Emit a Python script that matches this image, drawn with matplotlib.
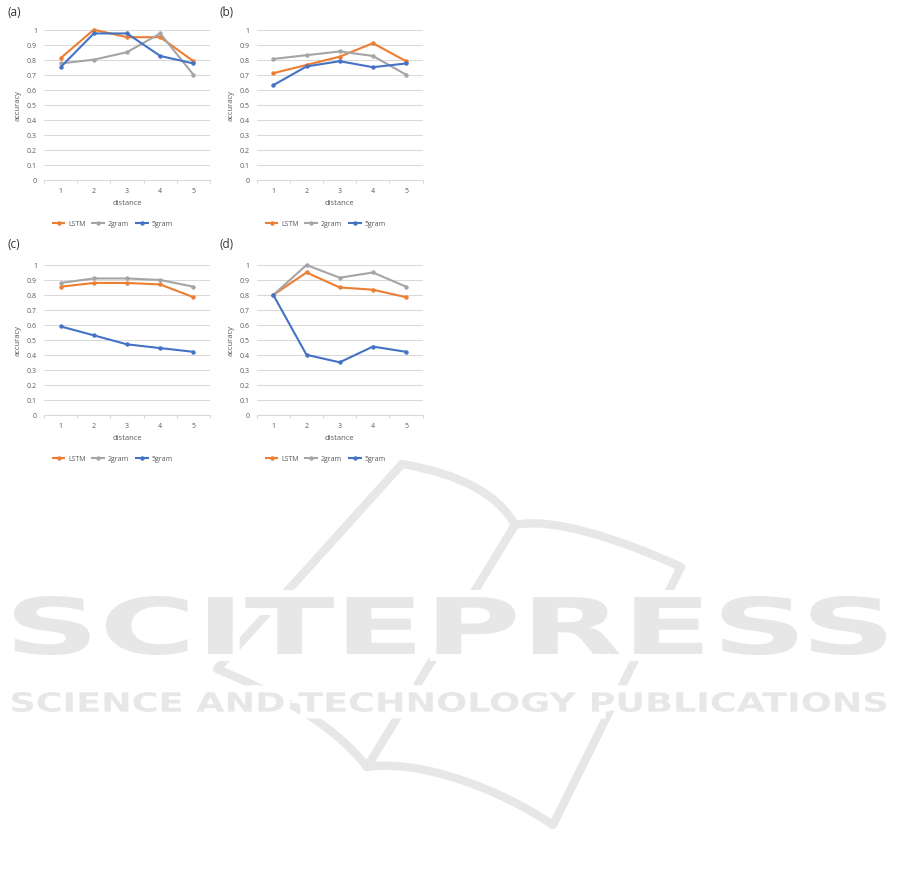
import numpy as np
import matplotlib.pyplot as plt
from matplotlib.path import Path
from matplotlib.patches import PathPatch
from matplotlib.textpath import TextPath
from matplotlib.font_manager import FontProperties
from matplotlib.transforms import Affine2D
import matplotlib.patheffects as pe

plt.rcParams['font.family'] = ['Open Sans', 'DejaVu Sans']

distance = [1, 2, 3, 4, 5]
series_names = ['LSTM', '2gram', '5gram']
panel_labels = ['(a)', '(b)', '(c)', '(d)']

lstm_a = [0.81, 1.00, 0.95, 0.95, 0.79]
bigram_a = [0.775, 0.80, 0.85, 0.975, 0.70]
fivegram_a = [0.75, 0.975, 0.975, 0.825, 0.775]

lstm_b = [0.71, 0.765, 0.82, 0.91, 0.79]
bigram_b = [0.805, 0.83, 0.855, 0.825, 0.70]
fivegram_b = [0.63, 0.755, 0.79, 0.75, 0.775]

lstm_c = [0.855, 0.88, 0.88, 0.87, 0.785]
bigram_c = [0.88, 0.91, 0.91, 0.90, 0.855]
fivegram_c = [0.59, 0.53, 0.47, 0.445, 0.42]

lstm_d = [0.80, 0.95, 0.85, 0.835, 0.785]
bigram_d = [0.80, 1.00, 0.915, 0.95, 0.855]
fivegram_d = [0.80, 0.40, 0.35, 0.455, 0.42]

panels = [(lstm_a, bigram_a, fivegram_a),
          (lstm_b, bigram_b, fivegram_b),
          (lstm_c, bigram_c, fivegram_c),
          (lstm_d, bigram_d, fivegram_d)]

colors = ['#ED7D31', '#A5A5A5', '#4472C4']
grid_c = '#d9d9d9'
text_c = '#595959'
wm_c = '#e6e7e6'

W, H = 901, 887
fig = plt.figure(figsize=(W / 100, H / 100), dpi=100)

# watermark, drawn in pixel coordinates
bg = fig.add_axes([0, 0, 1, 1], zorder=0)
bg.set_xlim(0, W)
bg.set_ylim(H, 0)
bg.axis('off')

book = [
    (Path.MOVETO, (402, 465)),
    (Path.CURVE3, (490, 480)),
    (Path.CURVE3, (515, 526)),
    (Path.CURVE4, (552, 518)),
    (Path.CURVE4, (620, 540)),
    (Path.CURVE4, (681, 568)),
    (Path.LINETO, (553, 826)),
    (Path.CURVE4, (500, 790)),
    (Path.CURVE4, (420, 760)),
    (Path.CURVE4, (367, 768)),
    (Path.CURVE4, (330, 720)),
    (Path.CURVE4, (265, 690)),
    (Path.CURVE4, (217, 670)),
    (Path.CLOSEPOLY, (402, 465)),
    (Path.MOVETO, (515, 526)),
    (Path.LINETO, (367, 768)),
]
codes, verts = zip(*book)
bg.add_patch(PathPatch(Path(verts, codes), fill=False, ec=wm_c, lw=6,
                       joinstyle='round', capstyle='round'))


def wm_text(s, x0, x1, y_top, y_bot):
    tp = TextPath((0, 0), s, size=100,
                  prop=FontProperties(family='DejaVu Sans', weight='bold'))
    ext = tp.get_extents()
    sx = (x1 - x0) / ext.width
    sy = (y_bot - y_top) / ext.height
    tr = Affine2D().translate(-ext.x0, -ext.y0).scale(sx, -sy).translate(x0, y_bot)
    patch = PathPatch(tr.transform_path(tp), fc=wm_c, ec='none')
    patch.set_path_effects([pe.Stroke(linewidth=10, foreground='white'), pe.Normal()])
    bg.add_patch(patch)


wm_text('SCITEPRESS', 14, 886, 597, 656)
wm_text('SCIENCE AND TECHNOLOGY PUBLICATIONS', 12, 886, 693, 713)


def rect(left, top, w, h):
    return [left / W, 1 - (top + h) / H, w / W, h / H]


boxes = [(44, 30.7, 166, 150), (256.7, 30.7, 166, 150),
         (44, 266, 166, 149.7), (256.7, 266, 166, 149.7)]
label_pos = [(7, 12), (220, 12), (7, 245), (220, 245)]
legend_pos = [(112, 224.5), (325, 224.5), (112, 459.5), (325, 459.5)]

for i, (data, box) in enumerate(zip(panels, boxes)):
    left, top, w, h = box
    ax = fig.add_axes(rect(*box), zorder=2)
    ax.set_facecolor('none')
    for name, vals, c in zip(series_names, data, colors):
        ax.plot(distance, vals, color=c, lw=1.5, marker='o', ms=2.6, mew=0.5,
                label=name, clip_on=False, solid_joinstyle='round',
                solid_capstyle='butt')
    ax.set_xlim(0.5, 5.5)
    ax.set_ylim(0, 1)
    ax.set_yticks(np.arange(0, 1.01, 0.1))
    ax.set_yticklabels(['0'] + ['%.1f' % v for v in np.arange(0.1, 0.95, 0.1)] + ['1'])
    ax.set_xticks(distance)
    ax.set_xticks(np.arange(0.5, 5.6, 1), minor=True)
    ax.grid(axis='y', color=grid_c, lw=0.75)
    ax.set_axisbelow(True)
    for s in ['top', 'right', 'left']:
        ax.spines[s].set_visible(False)
    ax.spines['bottom'].set_color(grid_c)
    ax.spines['bottom'].set_linewidth(0.75)
    ax.tick_params(axis='y', length=0, pad=5, labelsize=5, labelcolor=text_c)
    ax.tick_params(axis='x', which='major', length=0, pad=5, labelsize=5,
                   labelcolor=text_c)
    ax.tick_params(axis='x', which='minor', length=2.5, width=0.75, color=grid_c)
    ax.set_xlabel('distance', fontsize=5.5, color=text_c, va='center')
    ax.xaxis.set_label_coords(0.5, -23 / h)
    ax.set_ylabel('accuracy', fontsize=5.5, color=text_c, va='center')
    ax.yaxis.set_label_coords(-26 / w, 0.5)
    lx, ly = legend_pos[i]
    ax.legend(loc='center', bbox_to_anchor=(lx / W, 1 - ly / H),
              bbox_transform=fig.transFigure, ncol=3, frameon=False,
              fontsize=5, handlelength=2.0, handletextpad=0.4,
              columnspacing=0.8, labelcolor=text_c)
    px, py = label_pos[i]
    fig.text(px / W, 1 - py / H, panel_labels[i], fontsize=8.5, color='#333333',
             va='center', ha='left')

fig.savefig('out.png', dpi=100)
